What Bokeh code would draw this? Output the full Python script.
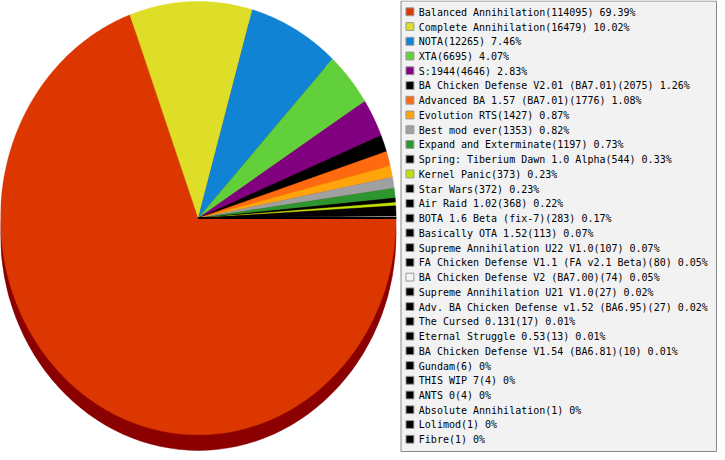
import numpy as np
from bokeh.plotting import figure
from bokeh.models import Range1d, ColumnDataSource
from bokeh.core.properties import value
from bokeh.embed import file_html
from bokeh.resources import INLINE

# ---- data ----
names = [
    "Balanced Annihilation", "Complete Annihilation", "NOTA", "XTA", "S:1944",
    "BA Chicken Defense V2.01 (BA7.01)", "Advanced BA 1.57 (BA7.01)", "Evolution RTS",
    "Best mod ever", "Expand and Exterminate", "Spring: Tiberium Dawn 1.0  Alpha",
    "Kernel Panic", "Star Wars", "Air Raid 1.02", "BOTA 1.6 Beta (fix-7)",
    "Basically OTA 1.52", "Supreme Annihilation U22 V1.0",
    "FA Chicken Defense V1.1 (FA v2.1 Beta)", "BA Chicken Defense V2 (BA7.00)",
    "Supreme Annihilation U21 V1.0", "Adv. BA Chicken Defense v1.52 (BA6.95)",
    "The Cursed 0.131", "Eternal Struggle 0.53", "BA Chicken Defense V1.54 (BA6.81)",
    "Gundam", "THIS WIP 7", "ANTS 0", "Absolute Annihilation", "Lolimod", "Fibre",
]
counts = [114095, 16479, 12265, 6695, 4646, 2075, 1776, 1427, 1353, 1197, 544, 373,
          372, 368, 283, 113, 107, 80, 74, 27, 27, 17, 13, 10, 6, 4, 4, 1, 1, 1]
percents = ["69.39%", "10.02%", "7.46%", "4.07%", "2.83%", "1.26%", "1.08%", "0.87%",
            "0.82%", "0.73%", "0.33%", "0.23%", "0.23%", "0.22%", "0.17%", "0.07%",
            "0.07%", "0.05%", "0.05%", "0.02%", "0.02%", "0.01%", "0.01%", "0.01%",
            "0%", "0%", "0%", "0%", "0%", "0%"]
colors = ["#dc3700", "#dedd28", "#1083d4", "#62d03a", "#800080", "#000000",
          "#ff6a10", "#ffa40a", "#a0a0a0", "#2e962e", "#000000", "#bfe000",
          "#000000", "#000000", "#000000", "#000000", "#000000", "#000000",
          "#f4f4f4", "#000000", "#000000", "#000000", "#000000", "#000000",
          "#000000", "#000000", "#000000", "#000000", "#000000", "#000000"]

# ---- layout (reference pixel space, y measured upward) ----
W, H = 725, 460
cx, cy = 200.0, H - 221.5
rx, ry = 200.0, 220.5
shadow_dy = 16.0

p = figure(width=717, height=452, output_backend="svg", toolbar_location=None,
           x_range=Range1d(0, W), y_range=Range1d(0, H), min_border=0,
           background_fill_color="white", border_fill_color="white")
p.axis.visible = False
p.grid.visible = False
p.outline_line_color = None

# shadow
p.ellipse(x=[cx], y=[cy - shadow_dy], width=[2 * rx], height=[2 * ry],
          fill_color="#8b0000", line_color="#8b0000", line_width=0.5)

# slices (clockwise from 3 o'clock)
vals = np.array(counts, dtype=float)
frac = vals / vals.sum()
cum = np.concatenate([[0.0], np.cumsum(frac)])
xs, ys = [], []
for i in range(len(vals)):
    a0, a1 = -2 * np.pi * cum[i], -2 * np.pi * cum[i + 1]
    n = max(2, int(abs(a1 - a0) / (2 * np.pi) * 720) + 2)
    t = np.linspace(a0, a1, n)
    xs.append(np.concatenate([[cx], cx + rx * np.cos(t)]).tolist())
    ys.append(np.concatenate([[cy], cy + ry * np.sin(t)]).tolist())
p.patches(xs=xs, ys=ys, fill_color=colors, line_color=colors, line_width=0.4)

# legend box
p.quad(left=[405], right=[724], top=[H - 0.5], bottom=[H - 459],
       fill_color="#f2f2f2", line_color="#888888", line_width=1)

rows = np.arange(len(names))
row_y = H - (12 + 15 * rows)
labels = [f"{n}({c}) {pc}" for n, c, pc in zip(names, counts, percents)]
src = ColumnDataSource(dict(x=[414.0] * len(names), tx=[423.0] * len(names),
                            y=row_y, sy=row_y + 0.5, label=labels, color=colors))
p.rect(x="x", y="sy", width=8, height=8, fill_color="color", line_color="#999999",
       line_width=1, source=src)
p.text(x="tx", y="y", text="label", source=src, text_font=value("DejaVu Sans Mono"),
       text_font_size="10px", text_baseline="middle", text_align="left",
       text_color="#000000")

open("out.html", "w").write(file_html(p, INLINE))
